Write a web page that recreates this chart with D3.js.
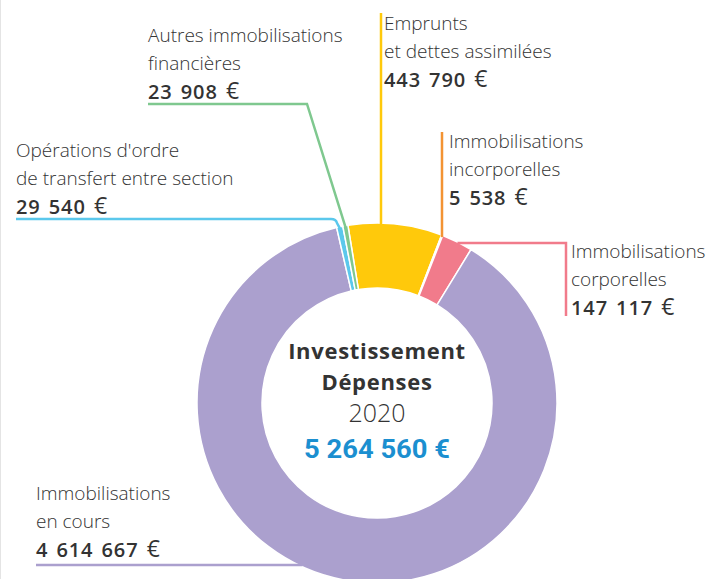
<!DOCTYPE html>
<meta charset="utf-8">
<style>
body { margin: 0; background: #fff; }
svg { display: block; }
text { font-family: "Open Sans", "Noto Sans", sans-serif; fill: #333; }
.lbl { font-size: 19px; font-weight: 300; }
.val { font-size: 20px; font-weight: 600; letter-spacing: 0.9px; word-spacing: 2px; }
.eur { font-weight: 400; font-size: 23px; }
</style>
<body>
<div id="chart"></div>
<script src="https://d3js.org/d3.v7.min.js"></script>
<script>

// Slices, in clockwise order starting from "Emprunts"
var names = ["Emprunts", "Immobilisations incorporelles", "Immobilisations corporelles",
             "Immobilisations en cours", "Opérations d'ordre", "Autres immobilisations financières"];
var values = [443790, 5538, 147117, 4614667, 29540, 23908];
var colors = ["#ffc90b", "#f39333", "#f17b8b", "#aba0ce", "#5bc8ec", "#7fc88f"];
var labelLines = [
  ["Emprunts", "et dettes assimilées"],
  ["Immobilisations", "incorporelles"],
  ["Immobilisations", "corporelles"],
  ["Immobilisations", "en cours"],
  ["Opérations d'ordre", "de transfert entre section"],
  ["Autres immobilisations", "financières"]
];
var valueLabels = ["443 790", "5 538", "147 117", "4 614 667", "29 540", "23 908"];
var totalLabel = "5 264 560 €";

var width = 723, height = 579;
var cx = 377, cy = 403, outerR = 180, innerR = 115;

var svg = d3.select("#chart").append("svg")
    .attr("width", width)
    .attr("height", height);

// faint page edge on the left
svg.append("line")
  .attr("x1", 0.5).attr("x2", 0.5).attr("y1", 0).attr("y2", height)
  .attr("stroke", "#e4e4e4").attr("stroke-width", 1);

var start = -9.3 * Math.PI / 180;
var pie = d3.pie().sort(null).value(function(d) { return d; })
    .startAngle(start).endAngle(start + 2 * Math.PI);
var arcs = pie(values);

var arc = d3.arc().innerRadius(innerR).outerRadius(outerR);

var g = svg.append("g").attr("transform", "translate(" + cx + "," + cy + ")");

// leader lines (drawn first so the ring sits on top)
function ringY(x) { return cy - Math.sqrt(outerR * outerR - (x - cx) * (x - cx)); }
function ringX(y, side) { return cx + side * Math.sqrt(outerR * outerR - (y - cy) * (y - cy)); }
function edgePoint(d, r) {
  var a = (d.startAngle + d.endAngle) / 2;
  return [cx + r * Math.sin(a), cy - r * Math.cos(a)];
}

var leaders = [
  function(d) { return "M381,13 V" + (ringY(381) + 2); },
  function(d) { return "M442,132 V" + (ringY(442) + 2); },
  function(d) { return "M" + (ringX(243, 1) - 2) + ",243 H566 V316"; },
  function(d) { return "M36,565 H" + (ringX(565, -1) + 4); },
  function(d) { var p = edgePoint(d, outerR - 2); return "M16,219 H331 Q336,219 337,223 L" + p[0] + "," + p[1]; },
  function(d) { var p = edgePoint(d, outerR - 2); return "M148,104 H307 L" + p[0] + "," + p[1]; }
];

svg.selectAll(".leader")
  .data(arcs)
  .enter().append("path")
    .attr("class", "leader")
    .attr("d", function(d, i) { return leaders[i](d); })
    .attr("fill", "none")
    .attr("stroke", function(d, i) { return colors[i]; })
    .attr("stroke-width", 2.5);

g.selectAll(".slice")
  .data(arcs)
  .enter().append("path")
    .attr("class", "slice")
    .attr("d", arc)
    .attr("fill", function(d, i) { return colors[i]; })
    .attr("stroke", "#fff")
    .attr("stroke-width", 1.5);

// labels: [x, first baseline]
var labelPos = [[384, 30], [449, 148], [571, 258], [36, 500], [16, 157], [148, 42]];
var lineH = 28;

labelLines.forEach(function(lines, i) {
  var t = svg.append("g");
  lines.forEach(function(s, j) {
    t.append("text").attr("class", "lbl")
      .attr("x", labelPos[i][0]).attr("y", labelPos[i][1] + j * lineH)
      .text(s);
  });
  var v = t.append("text").attr("class", "val")
    .attr("x", labelPos[i][0]).attr("y", labelPos[i][1] + 2 * lineH + 1);
  v.append("tspan").text(valueLabels[i] + " ");
  v.append("tspan").attr("class", "eur").text("€");
});

// centre
svg.append("text").attr("x", cx).attr("y", 359).attr("text-anchor", "middle")
  .style("font-size", "22px").style("font-weight", 700).style("letter-spacing", "0.7px")
  .text("Investissement");
svg.append("text").attr("x", cx).attr("y", 390).attr("text-anchor", "middle")
  .style("font-size", "22px").style("font-weight", 700).style("letter-spacing", "0.7px")
  .text("Dépenses");
svg.append("text").attr("x", cx).attr("y", 422).attr("text-anchor", "middle")
  .style("font-size", "25px").style("font-weight", 300)
  .text("2020");
svg.append("text").attr("x", cx).attr("y", 458).attr("text-anchor", "middle")
  .style("font-family", "Roboto, sans-serif")
  .style("font-size", "25px").style("font-weight", 700).style("fill", "#1b8fd0")
  .attr("textLength", 146).attr("lengthAdjust", "spacingAndGlyphs")
  .text(totalLabel);

</script>
</body>
